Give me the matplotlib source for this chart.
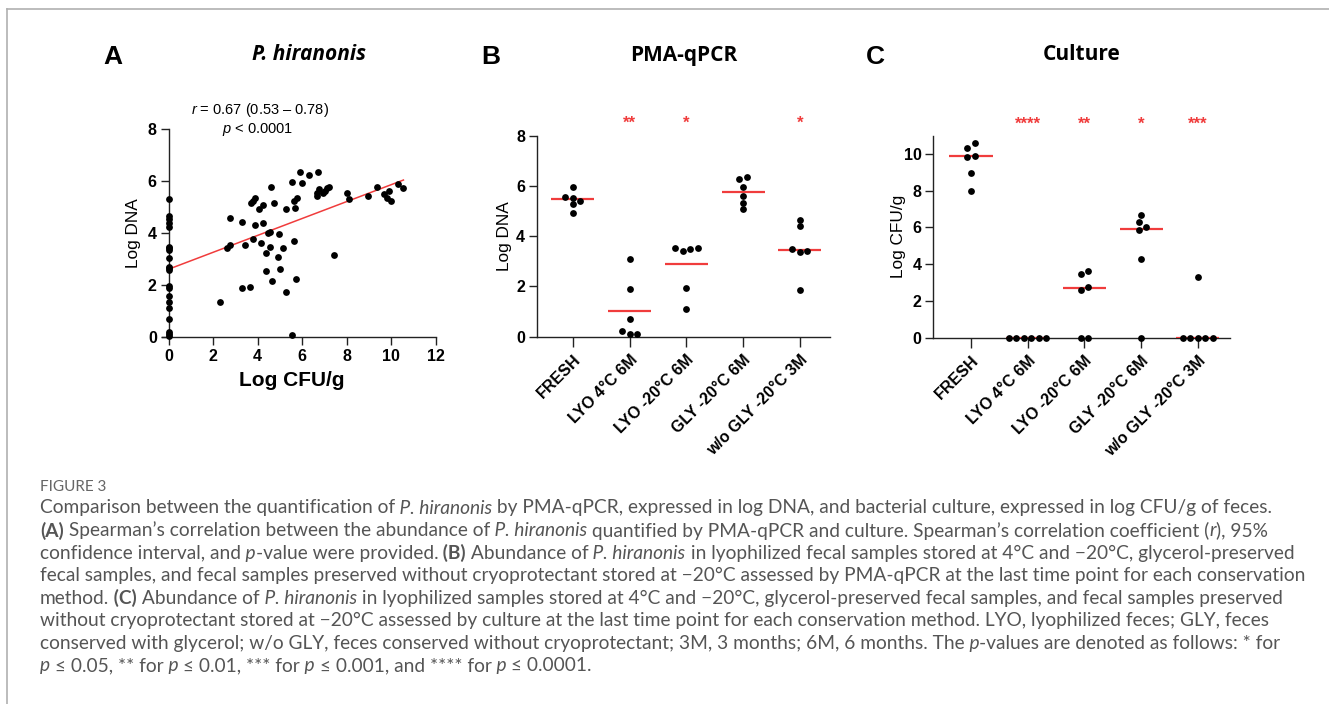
#!/usr/bin/env python3
"""Figure 3: P. hiranonis by PMA-qPCR vs culture (three panels + caption)."""

import math
import matplotlib
matplotlib.use('Agg')
import matplotlib.pyplot as plt
from matplotlib.lines import Line2D

W, H = 1329, 704
RED = '#f03c3c'
AX_COLOR = '#222222'
FONT = 'Liberation Sans'
TITLE_FONT = ['Open Sans', 'DejaVu Sans']
CAP_FONT = ['Lato', 'DejaVu Sans']
CAP_COLOR = '#555555'

# ---- panel A: Log CFU/g vs Log DNA (all samples)
cfu_zero_dna = [5.32, 4.67, 4.56, 4.41, 4.23, 3.49, 3.42, 3.35, 3.06, 2.72, 2.65,
                2.59, 1.97, 1.88, 1.59, 1.37, 1.11, 0.70, 0.22, 0.13, 0.05]
cfu_vals = [2.31, 2.61, 2.76, 2.77, 3.28, 3.43, 3.31, 3.66, 3.78, 3.70, 3.78, 3.88,
            3.88, 4.07, 4.25, 4.13, 4.25, 4.36, 4.36, 4.48, 4.55, 4.55, 4.60, 4.66,
            4.75, 4.90, 4.97, 5.00, 5.15, 5.26, 5.27, 5.53, 5.53, 5.66, 5.65, 5.71,
            5.65, 5.78, 5.90, 5.98, 6.31, 6.70, 6.65, 6.68, 6.77, 6.95, 7.02, 7.10,
            7.20, 7.44, 8.00, 8.10, 8.97, 9.35, 9.69, 9.90, 9.80, 9.99, 10.32, 10.54]
dna_vals = [1.35, 3.45, 4.58, 3.55, 4.42, 3.55, 1.88, 1.95, 3.78, 5.15, 5.26, 5.35,
            4.32, 4.95, 5.10, 3.62, 4.41, 3.26, 2.56, 4.03, 4.06, 3.49, 5.79, 2.17,
            5.15, 3.10, 3.97, 2.61, 3.42, 1.74, 4.94, 5.98, 0.09, 4.96, 3.70, 2.26,
            5.24, 5.35, 6.35, 5.95, 6.24, 6.35, 5.43, 5.56, 5.69, 5.56, 5.64, 5.73,
            5.79, 3.17, 5.56, 5.32, 5.43, 5.79, 5.50, 5.64, 5.37, 5.25, 5.88, 5.75]
fit_intercept = 2.62
fit_slope = 0.325
fit_x = [0.0, 10.55]

# ---- panels B and C: groups
groups = ['FRESH', 'LYO 4°C 6M', 'LYO -20°C 6M', 'GLY -20°C 6M', 'w/o GLY -20°C 3M']

pma = [
    [5.57, 5.94, 5.54, 5.27, 5.41, 4.93],
    [3.08, 1.90, 0.70, 0.23, 0.09, 0.09],
    [3.55, 3.42, 3.51, 3.55, 1.95, 1.10],
    [6.26, 6.37, 5.94, 5.61, 5.34, 5.08],
    [4.63, 4.42, 3.51, 3.36, 3.42, 1.86],
]
pma_center = [5.48, 1.03, 2.88, 5.77, 3.47]
pma_stars = ['', '**', '*', '', '*']

culture = [
    [10.58, 10.31, 9.85, 9.89, 8.98, 8.00],
    [0, 0, 0, 0, 0, 0],
    [3.45, 3.65, 2.60, 2.78, 0, 0],
    [6.68, 6.28, 5.86, 6.01, 4.28, 0],
    [3.28, 0, 0, 0, 0, 0],
]
culture_center = [9.87, 0.0, 2.69, 5.94, 0.0]
culture_stars = ['', '****', '**', '*', '***']


def px_box(left, right, top, bottom):
    """pixel box -> figure fraction [l, b, w, h]"""
    return [left / W, 1 - bottom / H, (right - left) / W, (bottom - top) / H]


def style_axis(ax):
    for s in ('top', 'right'):
        ax.spines[s].set_visible(False)
    for s in ('left', 'bottom'):
        ax.spines[s].set_color(AX_COLOR)
        ax.spines[s].set_linewidth(1.0)
    ax.tick_params(direction='out', length=6, width=1.0, color=AX_COLOR, pad=2.5,
                   labelsize=11.5)
    for lab in ax.get_xticklabels() + ax.get_yticklabels():
        lab.set_fontweight('bold')
        lab.set_family(FONT)


def swarm(vals, px_y, px_cat, d=7.5, thresh=5.0):
    """Greedy dot-plot layout (like Prism): returns x offsets in category units."""
    order = sorted(range(len(vals)), key=lambda k: vals[k])
    cands = [0.0]
    for m in range(1, len(vals) + 1):
        cands += [m * d, -m * d]
    placed, offs = [], [0.0] * len(vals)
    for k in order:
        y = vals[k] * px_y
        for c in cands:
            if all(math.hypot(c - o, y - yy) >= thresh for o, yy in placed):
                break
        placed.append((c, y))
        offs[k] = c
    # centre each touching cluster around the category
    cluster = [order[0]]
    clusters = []
    for a, b in zip(order, order[1:]):
        if (vals[b] - vals[a]) * px_y < thresh:
            cluster.append(b)
        else:
            clusters.append(cluster)
            cluster = [b]
    clusters.append(cluster)
    for cl in clusters:
        mean = sum(offs[k] for k in cl) / len(cl)
        for k in cl:
            offs[k] -= mean
    return [o / px_cat for o in offs]


def dot_column(ax, values, centers, stars, star_y, px_y, px_cat):
    for i, vals in enumerate(values):
        xs = [i + o for o in swarm(vals, px_y, px_cat)]
        ax.scatter(xs, vals, s=24, color='black', zorder=4, clip_on=False, linewidths=0)
        ax.plot([i - 0.38, i + 0.38], [centers[i], centers[i]], color=RED, lw=1.6,
                zorder=3, solid_capstyle='butt')
        if stars[i]:
            ax.text(i, star_y, stars[i], color=RED, fontsize=12, fontweight='bold',
                    ha='center', va='center', family=FONT)


def rich_line(fig, renderer, x_px, y_px, segments, size):
    x = x_px
    for txt, st in segments:
        kw = dict(fontsize=size, color=CAP_COLOR, family=CAP_FONT, ha='left', va='center')
        if st == 'i':
            kw['fontstyle'] = 'italic'
        elif st == 'b':
            kw['fontweight'] = 'bold'
        t = fig.text(x / W, 1 - y_px / H, txt, **kw)
        x += t.get_window_extent(renderer).width


def main():
    plt.rcParams['font.family'] = FONT
    plt.rcParams['mathtext.fontset'] = 'custom'
    plt.rcParams['mathtext.rm'] = FONT
    plt.rcParams['mathtext.it'] = FONT + ':italic'
    plt.rcParams['mathtext.bf'] = FONT + ':bold'

    fig = plt.figure(figsize=(W / 100, H / 100), dpi=100)
    renderer = fig.canvas.get_renderer()

    # frame lines of the figure box
    fig.add_artist(Line2D([7 / W, 1], [1 - 9 / H, 1 - 9 / H], color='#b0b0b0', lw=1.2))
    fig.add_artist(Line2D([7 / W, 7 / W], [0, 1 - 9 / H], color='#b0b0b0', lw=1.2))

    # ---------------- A
    axA = fig.add_axes(px_box(162, 435.7, 129.3, 337.3))
    axA.scatter([0] * len(cfu_zero_dna), cfu_zero_dna, s=24, color='black',
                zorder=4, clip_on=False, linewidths=0)
    axA.scatter(cfu_vals, dna_vals, s=24, color='black', zorder=4, clip_on=False,
                linewidths=0)
    axA.plot(fit_x, [fit_intercept + fit_slope * x for x in fit_x], color=RED,
             lw=1.1, zorder=3)
    axA.set_xlim(-0.3, 12)
    axA.set_ylim(0, 8)
    axA.spines['left'].set_position(('data', 0))
    axA.set_xticks(range(0, 13, 2))
    axA.set_yticks(range(0, 9, 2))
    style_axis(axA)
    axA.set_xlabel('Log CFU/g', fontsize=15, fontweight='bold', va='center')
    axA.xaxis.set_label_coords(0.473, -0.21)
    axA.set_ylabel('Log DNA', fontsize=12.4)
    axA.yaxis.set_label_coords(-0.078, 0.5)
    axA.text(0.36, 1.095, r'$\it{r}$ = 0.67 (0.53 – 0.78)', transform=axA.transAxes,
             ha='center', va='center', fontsize=10.5)
    axA.text(0.35, 1.0, r'$\it{p}$ < 0.0001', transform=axA.transAxes,
             ha='center', va='center', fontsize=10.5)

    # ---------------- B
    axB = fig.add_axes(px_box(536.7, 830, 135.7, 336.7))
    dot_column(axB, pma, pma_center, pma_stars, 8.5, 25.1, 56.8)
    axB.set_xlim(-0.634, 4.53)
    axB.set_ylim(0, 8)
    axB.set_yticks(range(0, 9, 2))
    axB.set_xticks(range(len(groups)))
    axB.set_xticklabels(groups, rotation=45, ha='right', rotation_mode='anchor')
    style_axis(axB)
    axB.tick_params(axis='x', length=7, pad=4)
    axB.set_ylabel('Log DNA', fontsize=12.4)
    axB.yaxis.set_label_coords(-0.084, 0.5)

    # ---------------- C
    axC = fig.add_axes(px_box(933.3, 1230, 135.6, 337.7))
    dot_column(axC, culture, culture_center, culture_stars, 11.63, 18.4, 56.7)
    axC.set_xlim(-0.665, 4.568)
    axC.set_ylim(0, 11)
    axC.set_yticks(range(0, 11, 2))
    axC.set_xticks(range(len(groups)))
    axC.set_xticklabels(groups, rotation=45, ha='right', rotation_mode='anchor')
    style_axis(axC)
    axC.tick_params(axis='x', length=7, pad=4)
    axC.set_ylabel('Log CFU/g', fontsize=12.4)
    axC.yaxis.set_label_coords(-0.093, 0.5)

    # panel letters and titles
    for x, letter in [(113, 'A'), (491, 'B'), (875, 'C')]:
        fig.text(x / W, 1 - 57 / H, letter, fontsize=19, fontweight='bold',
                 ha='center', va='center')
    fig.text(309 / W, 1 - 55 / H, 'P. hiranonis', fontsize=15, fontweight='bold',
             fontstyle='italic', family=TITLE_FONT, ha='center', va='center')
    fig.text(684 / W, 1 - 55 / H, 'PMA-qPCR', fontsize=15, fontweight='bold',
             family=TITLE_FONT, ha='center', va='center')
    fig.text(1082 / W, 1 - 55 / H, 'Culture', fontsize=15, fontweight='bold',
             family=TITLE_FONT, ha='center', va='center')

    # caption
    fig.text(40 / W, 1 - 487 / H, 'FIGURE 3', fontsize=11, color='#666666',
             family=CAP_FONT, ha='left', va='center')
    n, i, b = 'n', 'i', 'b'
    cap = [
        [('Comparison between the quantification of', n), (' P. hiranonis', i),
         (' by PMA-qPCR, expressed in log DNA, and bacterial culture, expressed in log CFU/g of feces.', n)],
        [('(A)', b), (' Spearman’s correlation between the abundance of', n), (' P. hiranonis', i),
         (' quantified by PMA-qPCR and culture. Spearman’s correlation coefficient (', n),
         ('r', i), ('), 95%', n)],
        [('confidence interval, and', n), (' p', i), ('-value were provided.', n), (' (B)', b),
         (' Abundance of', n), (' P. hiranonis', i),
         (' in lyophilized fecal samples stored at 4°C and −20°C, glycerol-preserved', n)],
        [('fecal samples, and fecal samples preserved without cryoprotectant stored at −20°C '
          'assessed by PMA-qPCR at the last time point for each conservation', n)],
        [('method.', n), (' (C)', b), (' Abundance of', n), (' P. hiranonis', i),
         (' in lyophilized samples stored at 4°C and −20°C, glycerol-preserved fecal samples, '
          'and fecal samples preserved', n)],
        [('without cryoprotectant stored at −20°C assessed by culture at the last time point '
          'for each conservation method. LYO, lyophilized feces; GLY, feces', n)],
        [('conserved with glycerol; w/o GLY, feces conserved without cryoprotectant; 3M, 3 months; '
          '6M, 6 months. The', n), (' p', i), ('-values are denoted as follows: * for', n)],
        [('p', i), (' ≤ 0.05, ** for', n), (' p', i), (' ≤ 0.01, *** for', n), (' p', i),
         (' ≤ 0.001, and **** for', n), (' p', i), (' ≤ 0.0001.', n)],
    ]
    for k, segs in enumerate(cap):
        rich_line(fig, renderer, 40, 508 + 22.55 * k, segs, 13.8)

    fig.savefig('out.png', dpi=100)


if __name__ == '__main__':
    main()
